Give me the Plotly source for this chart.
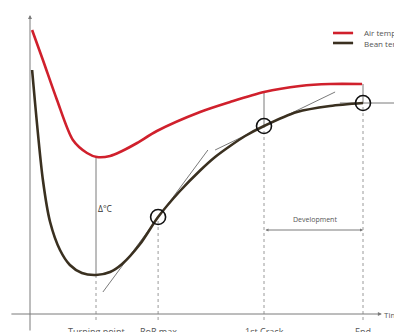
import plotly.graph_objects as go

# ---- data (time in minutes, temperature in arbitrary °C units) ----
air_t = [0.07, 0.43, 0.9, 1.43, 1.9, 2.23, 2.67, 3.07, 3.57, 4.23, 5.67, 6.67, 7.8, 9.0, 10.0, 11.07]
air_T = [284, 254, 214, 174, 161, 157, 158, 163, 171, 183, 202, 212, 222, 228, 230, 230]

bean_t = [0.07, 0.43, 0.67, 1.0, 1.33, 1.73, 2.2, 2.67, 3.07, 3.67, 4.27, 5.0, 5.67, 6.17, 6.67, 7.17, 7.8, 8.9, 10.0, 11.1]
bean_T = [244, 134, 92, 64, 49, 41, 39, 42, 50, 70, 97, 123, 143.5, 157, 168, 178, 188, 202, 208, 211]

event_labels = ["Turning point", "RoR max", "1st Crack", "End"]
event_t = [2.2, 4.27, 7.8, 11.1]
event_bean_T = [39, 97, 188, 211]
event_air_T = [157, 183, 222, 230]

# tangent segments: (t0, T0, t1, T1)
tangent_ror = [2.43, 22, 5.93, 164]
tangent_fc = [6.17, 164, 10.17, 222]
tangent_end = [10.33, 211, 12.4, 211]

dev_T = 84
delta_label = "Δ°C"

RED = "#d0202c"
BEAN = "#3a3020"
GRAY = "#7a7a7a"
TXT = "#555555"
FONT = "Open Sans, DejaVu Sans, sans-serif"

fig = go.Figure()

# dotted event lines
for t, Tb in zip(event_t, event_bean_T):
    fig.add_trace(go.Scatter(x=[t, t], y=[-6, Tb], mode="lines",
                             line=dict(color="#9a9a9a", width=1, dash="dot"),
                             showlegend=False, hoverinfo="skip"))

# solid gray verticals (air -> bean)
for i in [0, 2, 3]:
    fig.add_trace(go.Scatter(x=[event_t[i], event_t[i]], y=[event_air_T[i], event_bean_T[i]],
                             mode="lines", line=dict(color=GRAY, width=1),
                             showlegend=False, hoverinfo="skip"))

# tangents
for seg in [tangent_ror, tangent_fc, tangent_end]:
    fig.add_trace(go.Scatter(x=[seg[0], seg[2]], y=[seg[1], seg[3]], mode="lines",
                             line=dict(color=GRAY, width=1),
                             showlegend=False, hoverinfo="skip"))

# curves
fig.add_trace(go.Scatter(x=air_t, y=air_T, mode="lines", name="Air temp",
                         line=dict(color=RED, width=2.6, shape="spline", smoothing=0.8),
                         showlegend=False))
fig.add_trace(go.Scatter(x=bean_t, y=bean_T, mode="lines", name="Bean temp",
                         line=dict(color=BEAN, width=2.6, shape="spline", smoothing=0.8),
                         showlegend=False))

# circles
fig.add_trace(go.Scatter(x=event_t[1:], y=event_bean_T[1:], mode="markers",
                         marker=dict(symbol="circle-open", size=15, color="#111111",
                                     line=dict(width=1.6, color="#111111")),
                         showlegend=False, hoverinfo="skip"))

ann = []
# axes with arrows
ann.append(dict(x=0, y=299, ax=0, ay=-18, xref="x", yref="y", axref="x", ayref="y",
                showarrow=True, arrowhead=2, arrowsize=0.8, arrowwidth=1, arrowcolor=GRAY, text=""))
ann.append(dict(x=11.73, y=0, ax=-0.67, ay=0, xref="x", yref="y", axref="x", ayref="y",
                showarrow=True, arrowhead=2, arrowsize=0.8, arrowwidth=1, arrowcolor=GRAY, text=""))
ann.append(dict(x=11.74, y=0, xref="x", yref="y", text="Time", showarrow=False,
                xanchor="left", yanchor="middle", font=dict(size=8, color=TXT, family=FONT)))

# development arrow
ann.append(dict(x=event_t[3], y=dev_T, ax=event_t[2], ay=dev_T, xref="x", yref="y",
                axref="x", ayref="y", showarrow=True, arrowhead=2, arrowside="end+start",
                arrowsize=0.6, arrowwidth=1, arrowcolor=GRAY, text=""))
ann.append(dict(x=9.5, y=dev_T + 4, xref="x", yref="y", text="Development", showarrow=False,
                xanchor="center", yanchor="bottom", font=dict(size=7, color=TXT, family=FONT)))

ann.append(dict(x=2.5, y=106, xref="x", yref="y", text=delta_label, showarrow=False,
                xanchor="center", yanchor="middle", font=dict(size=8.5, color="#333333", family=FONT)))

for lab, t in zip(event_labels, event_t):
    ann.append(dict(x=t, y=-9, xref="x", yref="y", text=lab, showarrow=False,
                    xanchor="center", yanchor="top", font=dict(size=9, color=TXT, family=FONT)))

# legend (manual)
shapes = [
    dict(type="line", x0=10.1, x1=10.77, y0=281, y1=281, xref="x", yref="y",
         line=dict(color=RED, width=2.6)),
    dict(type="line", x0=10.1, x1=10.77, y0=271, y1=271, xref="x", yref="y",
         line=dict(color=BEAN, width=2.6)),
]
ann.append(dict(x=11.07, y=282, xref="x", yref="y", text="Air temp", showarrow=False,
                xanchor="left", yanchor="middle", font=dict(size=8, color=TXT, family=FONT)))
ann.append(dict(x=11.07, y=271, xref="x", yref="y", text="Bean temp", showarrow=False,
                xanchor="left", yanchor="middle", font=dict(size=8, color=TXT, family=FONT)))

# page has an 8px body margin: figure occupies page pixels 8..402 x 8..332
fig.update_layout(
    width=394, height=324,
    margin=dict(l=0, r=0, t=0, b=0),
    paper_bgcolor="white", plot_bgcolor="white",
    xaxis=dict(range=[-0.7333, 12.4], visible=False, fixedrange=True),
    yaxis=dict(range=[-18, 306], visible=False, fixedrange=True),
    annotations=ann, shapes=shapes,
    showlegend=False,
)

fig.write_html("out.html")
